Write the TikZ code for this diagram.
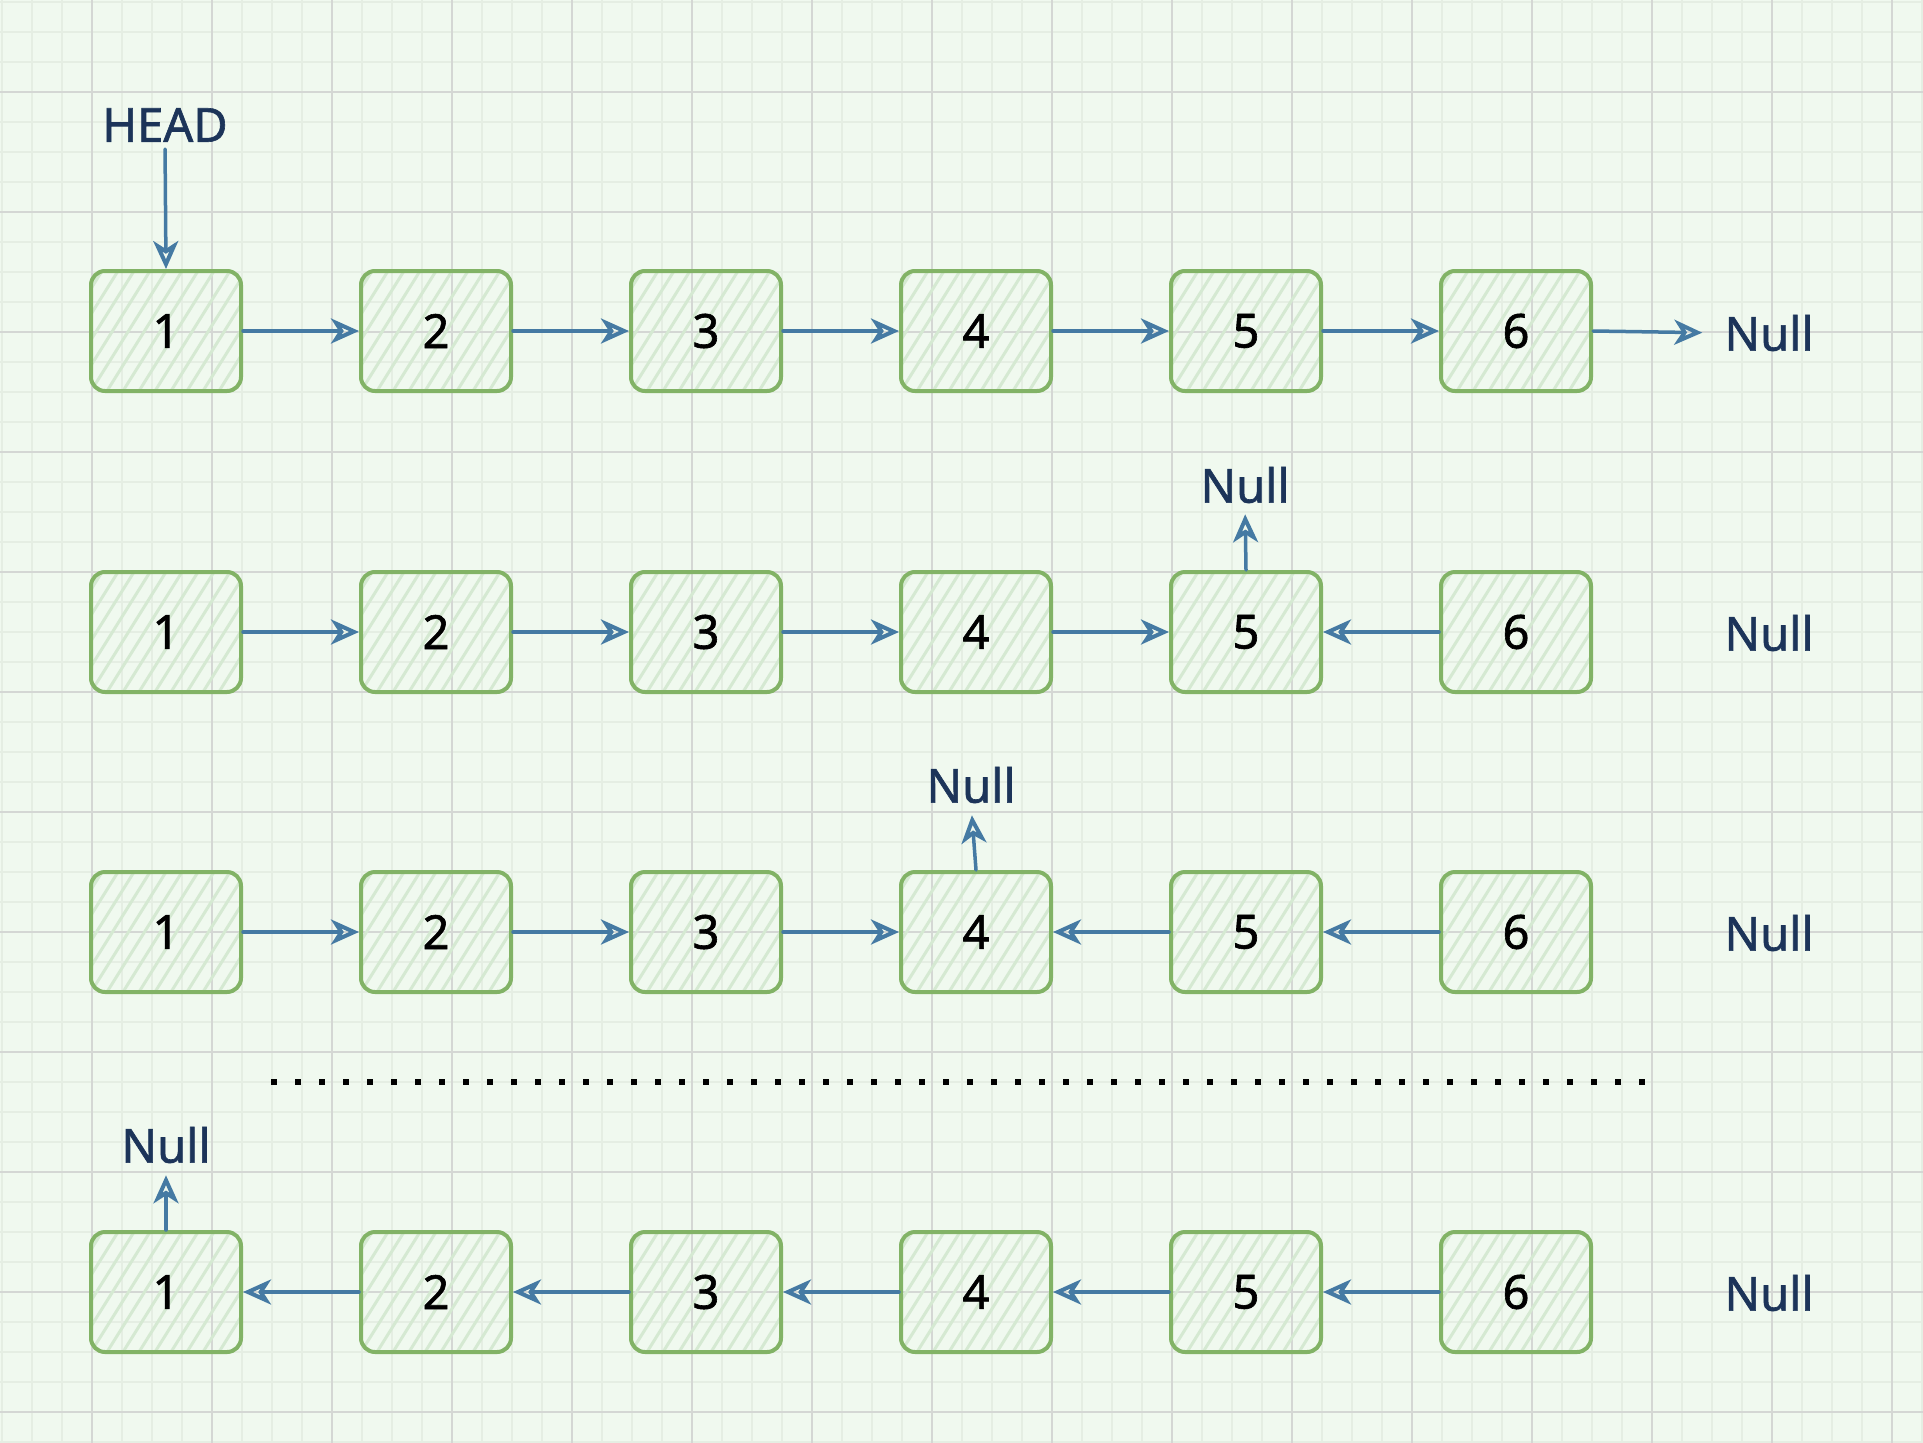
\documentclass[tikz,border=0pt]{standalone}
\usepackage{fontspec}
\setmainfont{Noto Sans}[FakeBold=1.3]
\usetikzlibrary{arrows.meta}
\definecolor{bgc}{HTML}{F0F9EF}
\definecolor{gmaj}{HTML}{D4D7D4}
\definecolor{gmin}{HTML}{E5EEE3}
\definecolor{boxg}{HTML}{82B366}
\definecolor{hatchg}{HTML}{D5E9D2}
\definecolor{arrb}{HTML}{457AA3}
\definecolor{navy}{HTML}{1C3459}
\tikzset{
  cell/.style={draw=boxg, line width=4pt, rounded corners=14pt,
    minimum width=150pt, minimum height=120pt, inner sep=0pt,
    font=\fontsize{47}{50}\selectfont, text=black,
    path picture={
      \foreach \k in {-7,...,10}{
        \draw[hatchg, line width=3pt]
          ([xshift=\k*16pt]path picture bounding box.south west) -- ++(58:200pt);
      }
    }},
  lbl/.style={text=navy, inner sep=0pt, font=\fontsize{47}{50}\selectfont},
  arr/.style={draw=arrb, line width=3.5pt, line cap=round,
    -{Stealth[open, length=28pt, width=25pt, inset=8pt, line width=4pt]}},
  gridmin/.style={draw=gmin, line width=2pt},
  gridmaj/.style={draw=gmaj, line width=1.8pt},
  dotline/.style={draw=black, line width=6pt, dash pattern=on 6pt off 18pt}
}
\begin{document}
\begin{tikzpicture}[x=1pt,y=-1pt]
\useasboundingbox (0,0) rectangle (1923,1443);
\fill[bgc] (0,0) rectangle (1923,1443);
\foreach \x in {2,32,...,1922} \draw[gridmin] (\x,0) -- (\x,1443);
\foreach \y in {2,32,...,1442} \draw[gridmin] (0,\y) -- (1923,\y);
\foreach \x in {92,212,...,1892} \draw[gridmaj] (\x,0) -- (\x,1443);
\foreach \y in {92,212,...,1412} \draw[gridmaj] (0,\y) -- (1923,\y);

% boxes
\foreach \r/\yy in {1/331,2/632,3/932,4/1292}{
  \foreach \c/\xx in {1/166,2/436,3/706,4/976,5/1246,6/1516}{
    \node[cell] (b\r\c) at (\xx,\yy) {\c};
  }
}

% labels
\node[lbl] (head) at (165,125) {HEAD};
\node[lbl] (nr1) at (1769,333) {Null};
\node[lbl] (nr2) at (1769,633) {Null};
\node[lbl] (nr3) at (1769,933) {Null};
\node[lbl] (nr4) at (1769,1293) {Null};
\node[lbl] (nt2) at (1245,485) {Null};
\node[lbl] (nt3) at (971,785) {Null};
\node[lbl] (nt4) at (166,1145) {Null};

% row 1
\draw[arr, shorten <=7pt] (head.south) -- (b11.north);
\draw[arr] (b11.east) -- (b12.west);
\draw[arr] (b12.east) -- (b13.west);
\draw[arr] (b13.east) -- (b14.west);
\draw[arr] (b14.east) -- (b15.west);
\draw[arr] (b15.east) -- (b16.west);
\draw[arr, shorten >=22pt] (b16.east) -- (nr1.west);

% row 2
\draw[arr] (b21.east) -- (b22.west);
\draw[arr] (b22.east) -- (b23.west);
\draw[arr] (b23.east) -- (b24.west);
\draw[arr] (b24.east) -- (b25.west);
\draw[arr] (b26.west) -- (b25.east);
\draw[arr, shorten >=11pt] (b25.north) -- (nt2.south);

% row 3
\draw[arr] (b31.east) -- (b32.west);
\draw[arr] (b32.east) -- (b33.west);
\draw[arr] (b33.east) -- (b34.west);
\draw[arr] (b35.west) -- (b34.east);
\draw[arr] (b36.west) -- (b35.east);
\draw[arr, shorten >=12pt] (b34.north) -- (nt3.south);

% dotted separator
\draw[dotline] (271,1082) -- (1645,1082);

% row 4
\draw[arr] (b42.west) -- (b41.east);
\draw[arr] (b43.west) -- (b42.east);
\draw[arr] (b44.west) -- (b43.east);
\draw[arr] (b45.west) -- (b44.east);
\draw[arr] (b46.west) -- (b45.east);
\draw[arr, shorten >=12pt] (b41.north) -- (nt4.south);
\end{tikzpicture}
\end{document}
